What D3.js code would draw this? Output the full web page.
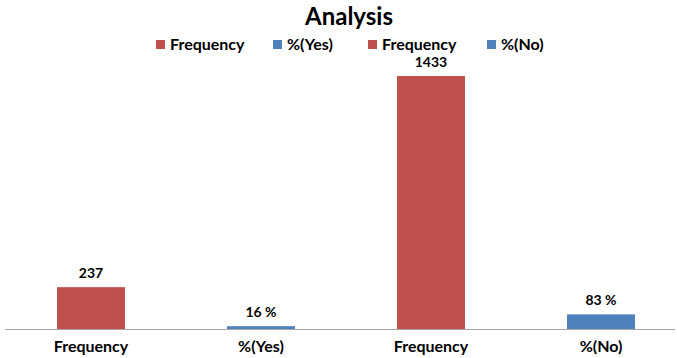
<!DOCTYPE html>
<html>
<head>
<meta charset="utf-8">
<script src="https://cdn.jsdelivr.net/npm/d3@7"></script>
<style>
  html, body { margin: 0; padding: 0; background: #fff; }
  svg { display: block; font-family: Lato, "Open Sans", sans-serif; font-weight: bold; }
</style>
</head>
<body>
<svg id="chart" width="677" height="358"></svg>
<script>
// Chart data
const categories = ["Frequency", "%(Yes)", "Frequency", "%(No)"];
const values = [237, 16, 1433, 83];
const valueLabels = ["237", "16 %", "1433", "83 %"];
const seriesColors = ["#C0504D", "#4F81BD", "#C0504D", "#4F81BD"];
const legendLabels = ["Frequency", "%(Yes)", "Frequency", "%(No)"];

const svg = d3.select("#chart");

const x = d3.scaleBand()
  .domain(d3.range(categories.length))
  .range([6, 686])
  .paddingInner(0.6)
  .paddingOuter(0.3);

const y = d3.scaleLinear()
  .domain([0, 1600])
  .range([329, 46.5]);

// Title
svg.append("text")
  .attr("x", 349).attr("y", 25)
  .attr("text-anchor", "middle")
  .attr("font-size", 24)
  .attr("fill", "#000")
  .text("Analysis");

// Legend
const legendX = [156, 273, 368, 487];
const legend = svg.append("g").attr("class", "legend");
legendLabels.forEach((lab, i) => {
  const g = legend.append("g").attr("transform", `translate(${legendX[i]},40)`);
  g.append("rect").attr("width", 9).attr("height", 9).attr("fill", seriesColors[i]);
  g.append("text").attr("x", 14).attr("y", 10)
    .attr("font-size", 16).attr("fill", "#000").text(lab);
});

// Bars
svg.append("g").selectAll("rect")
  .data(values)
  .join("rect")
  .attr("x", (d, i) => x(i))
  .attr("width", x.bandwidth())
  .attr("y", d => y(d))
  .attr("height", d => y(0) - y(d))
  .attr("fill", (d, i) => seriesColors[i]);

// Value labels
svg.append("g").selectAll("text")
  .data(values)
  .join("text")
  .attr("x", (d, i) => x(i) + x.bandwidth() / 2)
  .attr("y", d => y(d) - 9)
  .attr("text-anchor", "middle")
  .attr("font-size", 14)
  .attr("fill", "#000")
  .text((d, i) => valueLabels[i]);

// Category axis
svg.append("line")
  .attr("x1", 5).attr("x2", 675)
  .attr("y1", y(0) + 0.5).attr("y2", y(0) + 0.5)
  .attr("stroke", "#A6A6A6").attr("stroke-width", 1);

svg.append("g").selectAll("text")
  .data(categories)
  .join("text")
  .attr("x", (d, i) => x(i) + x.bandwidth() / 2)
  .attr("y", 352)
  .attr("text-anchor", "middle")
  .attr("font-size", 16)
  .attr("fill", "#000")
  .text(d => d);
</script>
</body>
</html>
